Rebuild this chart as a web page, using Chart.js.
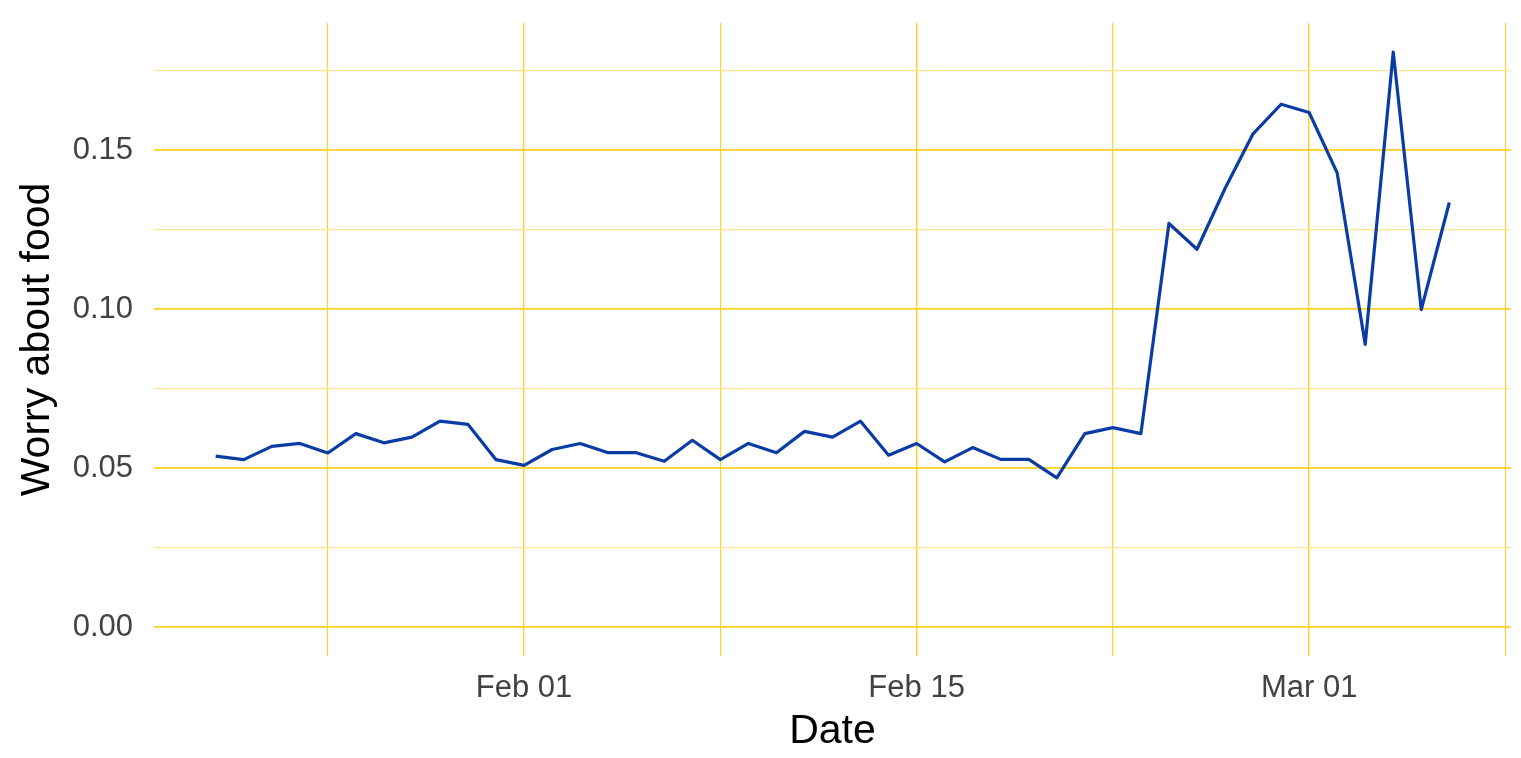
<!DOCTYPE html>
<html>
<head>
<meta charset="utf-8">
<script src="https://cdn.jsdelivr.net/npm/chart.js@4"></script>
<style>
  html, body { margin: 0; padding: 0; background: #fff; }
  #wrap { width: 1521px; height: 758px; }
</style>
</head>
<body>
<div id="wrap"><canvas id="chart" width="1521" height="758"></canvas></div>
<script>
// daily observations
const dates = [
  '2021-01-21', '2021-01-22', '2021-01-23', '2021-01-24', '2021-01-25', '2021-01-26',
  '2021-01-27', '2021-01-28', '2021-01-29', '2021-01-30', '2021-01-31', '2021-02-01',
  '2021-02-02', '2021-02-03', '2021-02-04', '2021-02-05', '2021-02-06', '2021-02-07',
  '2021-02-08', '2021-02-09', '2021-02-10', '2021-02-11', '2021-02-12', '2021-02-13',
  '2021-02-14', '2021-02-15', '2021-02-16', '2021-02-17', '2021-02-18', '2021-02-19',
  '2021-02-20', '2021-02-21', '2021-02-22', '2021-02-23', '2021-02-24', '2021-02-25',
  '2021-02-26', '2021-02-27', '2021-02-28', '2021-03-01', '2021-03-02', '2021-03-03',
  '2021-03-04', '2021-03-05', '2021-03-06'
];
const worryFood = [
  0.0538, 0.0527, 0.0569, 0.0578, 0.0548, 0.0609,
  0.0580, 0.0598, 0.0648, 0.0638, 0.0527, 0.0509,
  0.0559, 0.0578, 0.0549, 0.0549, 0.0522, 0.0588,
  0.0527, 0.0578, 0.0549, 0.0616, 0.0598, 0.0648,
  0.0541, 0.0578, 0.0520, 0.0565, 0.0528, 0.0528,
  0.0470, 0.0609, 0.0628, 0.0609, 0.1270, 0.1189,
  0.1380, 0.1552, 0.1645, 0.1619, 0.1429, 0.0890,
  0.1809, 0.0999, 0.1336
];

// axis breaks (days counted from Feb 01)
const xMajorDays = [0, 14, 28];
const xMajorLabels = ['Feb 01', 'Feb 15', 'Mar 01'];
const xMinorDays = [-7, 7, 21, 35];
const yMajor = [0, 0.05, 0.10, 0.15];
const yMinor = [0.025, 0.075, 0.125, 0.175];

const origin = Date.parse('2021-02-01');
const points = dates.map((d, i) => ({ x: (Date.parse(d) - origin) / 86400000, y: worryFood[i] }));

const gold = '#FFD21F';
const goldLight = '#FFE58C';
const isMajorX = v => xMajorDays.indexOf(Math.round(v)) !== -1;
const isMajorY = v => yMajor.some(m => Math.abs(m - v) < 1e-9);

// keep the panel exactly where the reference has it
const noEdgePadding = (scale) => {
  scale.paddingTop = 0;
  scale.paddingBottom = 0;
  scale.paddingLeft = 0;
  scale.paddingRight = 0;
};

new Chart(document.getElementById('chart'), {
  type: 'line',
  data: {
    datasets: [{
      label: 'Worry about food',
      data: points,
      borderColor: '#0a3ca6',
      borderWidth: 3.2,
      borderJoinStyle: 'round',
      pointRadius: 0,
      tension: 0,
      fill: false
    }]
  },
  options: {
    responsive: false,
    animation: false,
    layout: { padding: { left: 0, right: 10, top: 23, bottom: 0 } },
    plugins: { legend: { display: false }, tooltip: { enabled: false } },
    scales: {
      x: {
        type: 'linear',
        min: -13.2,
        max: 35.2,
        afterBuildTicks: (scale) => {
          scale.ticks = xMinorDays.concat(xMajorDays).sort((a, b) => a - b).map(v => ({ value: v }));
        },
        afterFit: (scale) => { scale.height = 102; noEdgePadding(scale); },
        ticks: {
          autoSkip: false,
          maxRotation: 0,
          padding: 14,
          color: '#424242',
          font: { family: '"Liberation Sans", Arial, sans-serif', size: 31 },
          callback: (v) => {
            const i = xMajorDays.indexOf(Math.round(v));
            return i === -1 ? '' : xMajorLabels[i];
          }
        },
        grid: {
          drawTicks: false,
          color: gold,
          lineWidth: (ctx) => (ctx.tick && isMajorX(ctx.tick.value)) ? 1.4 : 1.1
        },
        border: { display: false },
        title: {
          display: true,
          text: 'Date',
          color: '#000',
          font: { family: '"Liberation Sans", Arial, sans-serif', size: 41 },
          padding: { top: 0, bottom: 2 }
        }
      },
      y: {
        min: -0.00905,
        max: 0.19005,
        afterBuildTicks: (scale) => {
          scale.ticks = yMajor.concat(yMinor).sort((a, b) => a - b).map(v => ({ value: v }));
        },
        afterFit: (scale) => { scale.width = 154; noEdgePadding(scale); },
        ticks: {
          autoSkip: false,
          padding: 21,
          color: '#424242',
          font: { family: '"Liberation Sans", Arial, sans-serif', size: 31 },
          callback: (v) => isMajorY(v) ? v.toFixed(2) : ''
        },
        grid: {
          drawTicks: false,
          color: (ctx) => (ctx.tick && isMajorY(ctx.tick.value)) ? gold : goldLight,
          lineWidth: (ctx) => (ctx.tick && isMajorY(ctx.tick.value)) ? 1.7 : 1.3
        },
        border: { display: false },
        title: {
          display: true,
          text: 'Worry about food',
          color: '#000',
          font: { family: '"Liberation Sans", Arial, sans-serif', size: 41 },
          padding: { top: 13, bottom: 0 }
        }
      }
    }
  }
});
</script>
</body>
</html>
